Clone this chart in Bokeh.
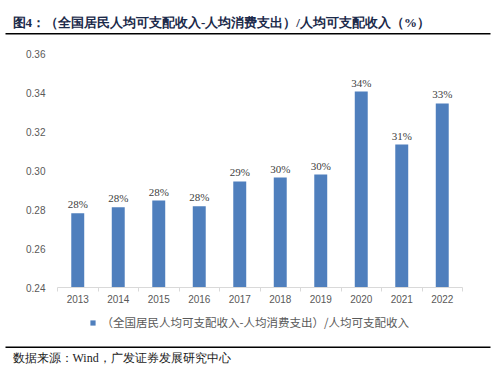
from bokeh.plotting import figure
from bokeh.layouts import column, row
from bokeh.models import (ColumnDataSource, FixedTicker, Range1d, Legend, LegendItem,
                          CustomJSTickFormatter)
from bokeh.embed import file_html
from bokeh.resources import INLINE

# Savings ratio: (disposable income - consumption) / disposable income
years = ["2013", "2014", "2015", "2016", "2017", "2018", "2019", "2020", "2021", "2022"]
ratio = [0.2781, 0.2812, 0.2846, 0.2817, 0.2944, 0.2964, 0.2979, 0.3405, 0.3133, 0.3344]
y_ticks = [0.24, 0.26, 0.28, 0.30, 0.32, 0.34, 0.36]

title_text = "图4：（全国居民人均可支配收入-人均消费支出）/人均可支配收入（%）"
series_name = "（全国居民人均可支配收入-人均消费支出）/人均可支配收入"
source_text = "数据来源：Wind，广发证券发展研究中心"

W = 497
BAR = "#4F7FBD"
GREY = "#595959"
CJK = "Noto Sans CJK SC"
LATIN = "Liberation Sans"


def pixel_strip(height):
    """A bare figure whose data units are pixels, y growing downwards."""
    f = figure(width=W, height=height, output_backend="svg", toolbar_location=None,
               x_range=Range1d(0, W), y_range=Range1d(height, 0),
               x_axis_type=None, y_axis_type=None, min_border=0)
    f.outline_line_color = None
    f.grid.visible = False
    return f


# ---- header: title and rule
head = pixel_strip(40)
t = head.text(x=[12], y=[21.5], text=[title_text], text_baseline="middle",
              text_font_size="13px", text_font_style="bold", text_color="#1B2A4A")
t.glyph.text_font = CJK
head.segment(x0=[5], y0=[33.3], x1=[490], y1=[33.3], line_color="black", line_width=1.5)

# ---- main bar chart
idx = list(range(len(years)))
src = ColumnDataSource(dict(
    x=idx,
    y=ratio,
    label=[f"{round(v * 100):d}%" for v in ratio],
))

p = figure(width=W, height=270, output_backend="svg", toolbar_location=None,
           x_range=Range1d(-0.5, len(years) - 0.5), y_range=Range1d(0.24, 0.36),
           min_border_left=57, min_border_right=35, min_border_top=13,
           min_border_bottom=23)
p.outline_line_color = None
p.grid.visible = False

bars = p.vbar(x="x", top="y", bottom=0.24, width=0.32, source=src,
              fill_color=BAR, line_color=None)

lbl = p.text(x="x", y="y", text="label", source=src, text_align="center",
             text_baseline="bottom", y_offset=-3, text_font_size="11px",
             text_color="#404040")
lbl.glyph.text_font = LATIN

yax = p.yaxis[0]
yax.ticker = FixedTicker(ticks=y_ticks)
yax.formatter = CustomJSTickFormatter(code="return tick.toFixed(2);")
yax.axis_line_color = None
yax.major_tick_line_color = None
yax.minor_tick_line_color = None
yax.major_label_standoff = 6
yax.major_label_text_font = LATIN
yax.major_label_text_font_size = "10px"
yax.major_label_text_color = GREY

# years centred under bars, small ticks at the category boundaries
xax = p.xaxis[0]
xax.ticker = FixedTicker(ticks=idx, minor_ticks=[i - 0.5 for i in range(len(years) + 1)])
xax.major_label_overrides = {i: y for i, y in enumerate(years)}
xax.axis_line_color = "#D9D9D9"
xax.major_tick_line_color = None
xax.major_tick_out = 4
xax.minor_tick_line_color = "#D9D9D9"
xax.minor_tick_in = 0
xax.minor_tick_out = 4
xax.major_label_standoff = 3
xax.major_label_text_font = LATIN
xax.major_label_text_font_size = "10px"
xax.major_label_text_color = GREY

# ---- footer: legend, rule and source note
FOOT_H = 62
foot = pixel_strip(FOOT_H)
# one off-canvas square so the legend has a glyph to draw its swatch from
swatch = foot.scatter(x=[-100], y=[-100], marker="square", size=5,
                      fill_color=BAR, line_color=None)
legend = Legend(items=[LegendItem(label=series_name, renderers=[swatch])],
                location=(85.5, FOOT_H - 20), orientation="horizontal",
                glyph_width=13, glyph_height=13, label_height=14, label_standoff=3,
                label_text_font=CJK, label_text_font_size="11.5px",
                label_text_color=GREY, border_line_color=None,
                background_fill_alpha=0, padding=0, margin=0, spacing=0)
foot.add_layout(legend)
foot.segment(x0=[5], y0=[36.7], x1=[490], y1=[36.7], line_color="black", line_width=1.5)
s = foot.text(x=[12], y=[47.7], text=[source_text], text_baseline="middle",
              text_font_size="12px", text_color="#1A1A1A")
s.glyph.text_font = CJK

# each figure wrapped in its own row so the frames keep their own widths
layout = column(row(head), row(p), row(foot), spacing=0)
open("out.html", "w").write(file_html(layout, INLINE))
